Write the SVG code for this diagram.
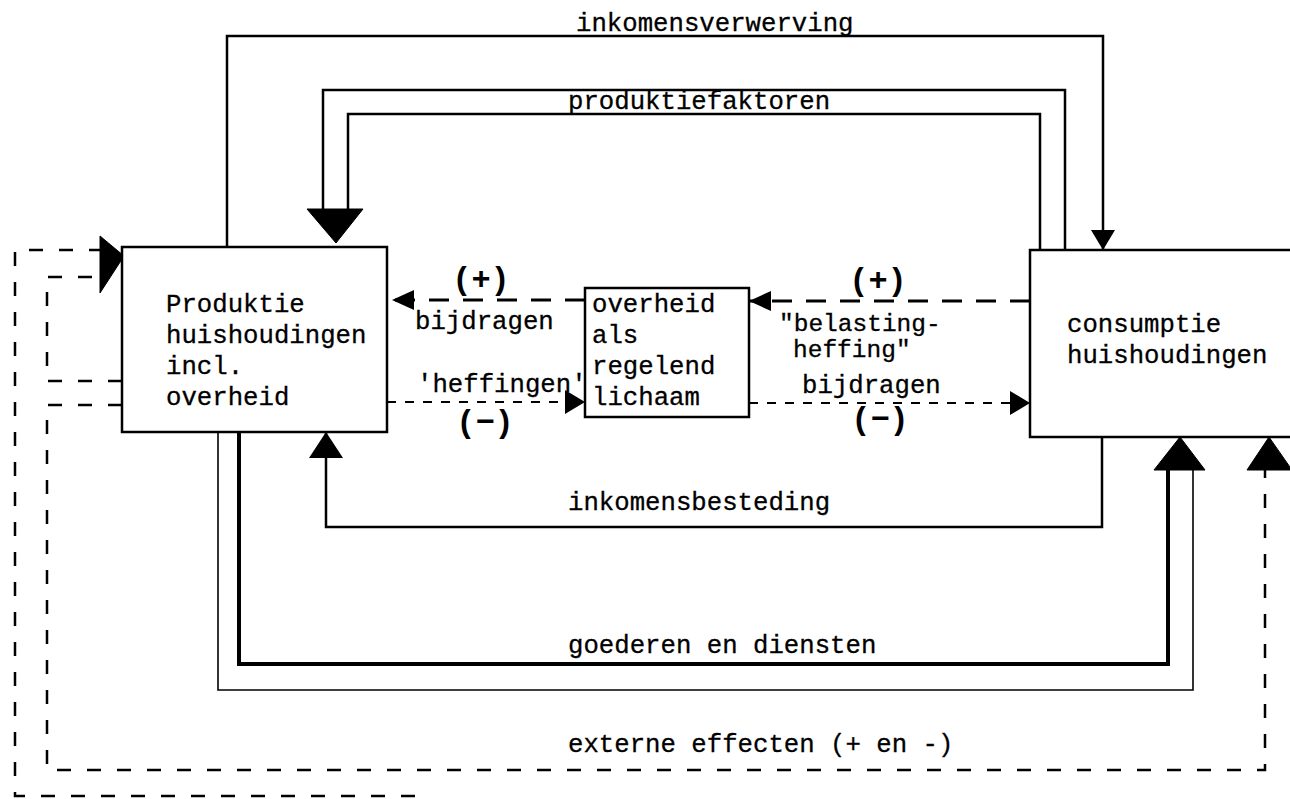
<svg xmlns="http://www.w3.org/2000/svg" width="1290" height="799" viewBox="0 0 1290 799">
<style>
.t{font-family:"Liberation Mono","Courier New",monospace;font-size:25.7px;fill:#000;stroke:#000;stroke-width:0.3}
.tq{font-family:"Liberation Mono","Courier New",monospace;font-size:24.5px;fill:#000;stroke:#000;stroke-width:0.3}
.sign{font-family:"Liberation Mono","Courier New",monospace;font-size:32px;font-weight:bold;fill:#000;text-anchor:middle}
.box{fill:#fff;stroke:#000;stroke-width:2.5}
.solid{fill:none;stroke:#000;stroke-width:2.5}
.thick{fill:none;stroke:#000;stroke-width:4}
.thin{fill:none;stroke:#000;stroke-width:1.6}
.dashL{fill:none;stroke:#000;stroke-width:3;stroke-dasharray:20 14}
.dashS{fill:none;stroke:#000;stroke-width:2;stroke-dasharray:9 9}
.dashE{fill:none;stroke:#000;stroke-width:2.5;stroke-dasharray:14 16}
.head{fill:#000;stroke:#000;stroke-width:1}
</style>
<defs>
<marker id="arrS" viewBox="0 0 20 24" refX="20" refY="12" markerWidth="20" markerHeight="24" markerUnits="userSpaceOnUse" orient="auto"><path d="M0,0 L20,12 L0,24 z" fill="#000"/></marker>
<marker id="arrD" viewBox="0 0 22 20" refX="22" refY="10" markerWidth="22" markerHeight="20" markerUnits="userSpaceOnUse" orient="auto"><path d="M0,0 L22,10 L0,20 z" fill="#000"/></marker>
<marker id="arrB" viewBox="0 0 26 34" refX="26" refY="17" markerWidth="26" markerHeight="34" markerUnits="userSpaceOnUse" orient="auto"><path d="M0,0 L26,17 L0,34 z" fill="#000"/></marker>
</defs>
<rect width="1290" height="799" fill="#fff"/>

<g id="connectors">
  <!-- inkomensverwerving -->
  <path class="solid" d="M227,247 V36 H1103 V250" marker-end="url(#arrS)"/>
  <!-- produktiefaktoren (double line) -->
  <path class="solid" d="M1065,250 V90 H323 V212"/>
  <path class="solid" d="M1040,250 V114 H348 V212"/>
  <polygon class="head" points="307,209 363,209 336,243"/>
  <!-- inkomensbesteding -->
  <path class="solid" d="M1102,437 V527 H326 V432" marker-end="url(#arrB)"/>
  <!-- goederen en diensten (double line) -->
  <path class="thick" d="M239,432 V664 H1168 V470"/>
  <path class="thin" d="M218,432 V690 H1193 V470"/>
  <polygon class="head" points="1154,470 1205,470 1180,437"/>
  <!-- bijdragen / heffingen (dashed) -->
  <path class="dashL" d="M585,300 H392" marker-end="url(#arrD)"/>
  <path class="dashL" d="M1030,301 H749" marker-end="url(#arrD)"/>
  <path class="dashS" d="M387,402 H585" marker-end="url(#arrS)"/>
  <path class="dashS" d="M749,403 H1030" marker-end="url(#arrS)"/>
  <!-- externe effecten -->
  <path class="dashE" d="M122,381 H47 V277 H100"/>
  <path class="dashE" d="M122,405 H47 V770 H1265 V470"/>
  <path class="dashE" d="M415,796 H15 V250 H100"/>
  <polygon class="head" points="100,236 124,256 100,293"/>
  <polygon class="head" points="1247,470 1292,470 1269,437"/>
</g>

<g id="labels">
  <text class="t" x="576" y="31">inkomensverwerving</text>
  <text class="t" x="568" y="109">produktiefaktoren</text>
  <text class="sign" x="481" y="289">(+)</text>
  <text class="t" x="415" y="329">bijdragen</text>
  <text class="t" x="417" y="392">'heffingen'</text>
  <text class="sign" x="485" y="432">(−)</text>
  <text class="sign" x="878" y="290">(+)</text>
  <text class="tq" x="779" y="331">"belasting-</text>
  <text class="tq" x="793" y="357">heffing"</text>
  <text class="t" x="802" y="393">bijdragen</text>
  <text class="sign" x="880" y="429">(−)</text>
  <text class="t" x="568" y="510">inkomensbesteding</text>
  <text class="t" x="568" y="653">goederen en diensten</text>
  <text class="t" x="568" y="752">externe effecten (+ en -)</text>
</g>

<g id="produktie">
  <rect class="box" x="122" y="247" width="265" height="185"/>
  <text class="t" x="166" y="312">Produktie</text>
  <text class="t" x="166" y="343">huishoudingen</text>
  <text class="t" x="166" y="374">incl.</text>
  <text class="t" x="166" y="405">overheid</text>
</g>

<g id="overheid">
  <rect class="box" x="585" y="288" width="164" height="129"/>
  <text class="t" x="592" y="312">overheid</text>
  <text class="t" x="592" y="343">als</text>
  <text class="t" x="592" y="374">regelend</text>
  <text class="t" x="592" y="405">lichaam</text>
</g>

<g id="consumptie">
  <rect class="box" x="1030" y="250" width="300" height="187"/>
  <text class="t" x="1067" y="332">consumptie</text>
  <text class="t" x="1067" y="363">huishoudingen</text>
</g>
</svg>
